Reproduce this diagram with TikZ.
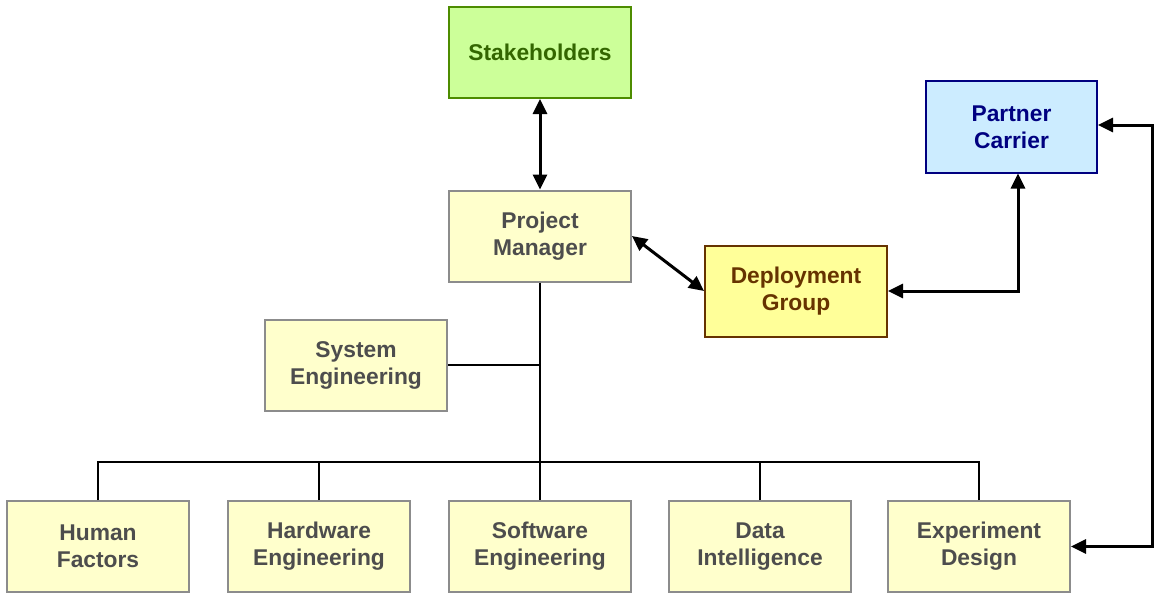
\documentclass[tikz,border=0pt]{standalone}
\usepackage{fontspec}
\setmainfont{Liberation Sans}
\usetikzlibrary{arrows.meta}
\definecolor{teamfill}{HTML}{FFFFCC}
\definecolor{teamline}{HTML}{8C8C8C}
\definecolor{teamtext}{HTML}{4D4D4D}
\definecolor{stakefill}{HTML}{CCFF99}
\definecolor{stakeline}{HTML}{4D8C00}
\definecolor{staketext}{HTML}{336600}
\definecolor{partfill}{HTML}{CCECFF}
\definecolor{partline}{HTML}{000080}
\definecolor{deplfill}{HTML}{FFFF99}
\definecolor{deplline}{HTML}{663300}

\begin{document}
\begin{tikzpicture}[x=1pt,y=-1pt,
  team/.style={draw=teamline,fill=teamfill,text=teamtext,line width=2pt,
    minimum width=182pt,minimum height=91pt,inner sep=0pt,align=center,
    font=\bfseries\fontsize{22.8}{27}\selectfont},
  link/.style={line width=3pt,{Triangle[length=15pt,width=14pt]}-{Triangle[length=15pt,width=14pt]}},
  tree/.style={line width=2.4pt}]
\useasboundingbox (0,0) rectangle (1154,594);
% top boxes
\node[team,draw=stakeline,fill=stakefill,text=staketext] (stake) at (540,52.5) {Stakeholders};
\node[team] (pm) at (540,236) {Project\\Manager};
\node[team,draw=partline,fill=partfill,text=partline,minimum width=171pt] (partner) at (1011.5,127) {Partner\\Carrier};
\node[team,draw=deplline,fill=deplfill,text=deplline] (depl) at (796,291) {Deployment\\Group};
\node[team] (syseng) at (356,365) {System\\Engineering};
% bottom row
\node[team] (human) at (98,546.5) {Human\\Factors};
\node[team] (hard) at (319,546.5) {Hardware\\Engineering};
\node[team] (soft) at (540,546.5) {Software\\Engineering};
\node[team] (data) at (760,546.5) {Data\\Intelligence};
\node[team] (expt) at (979,546.5) {Experiment\\Design};
% tree lines
\coordinate (bus) at (540,462);
\draw[tree] (pm.south) -- (soft.north);
\draw[tree] (syseng.east) -- (syseng.east -| pm.south);
\foreach \n in {human,hard,data,expt}{
    \draw[tree] (\n.north) |- (bus);
}
% arrows
\coordinate (bend) at (1152,125);
\draw[link] (stake) -- (pm);
\draw[link] (pm.east) -- (depl.west);
\draw[link] (depl.east) -| ([xshift=6.5pt]partner.south);
\draw[link] (expt.east) -| (bend) -- (bend -| partner.east);
\end{tikzpicture}
\end{document}
